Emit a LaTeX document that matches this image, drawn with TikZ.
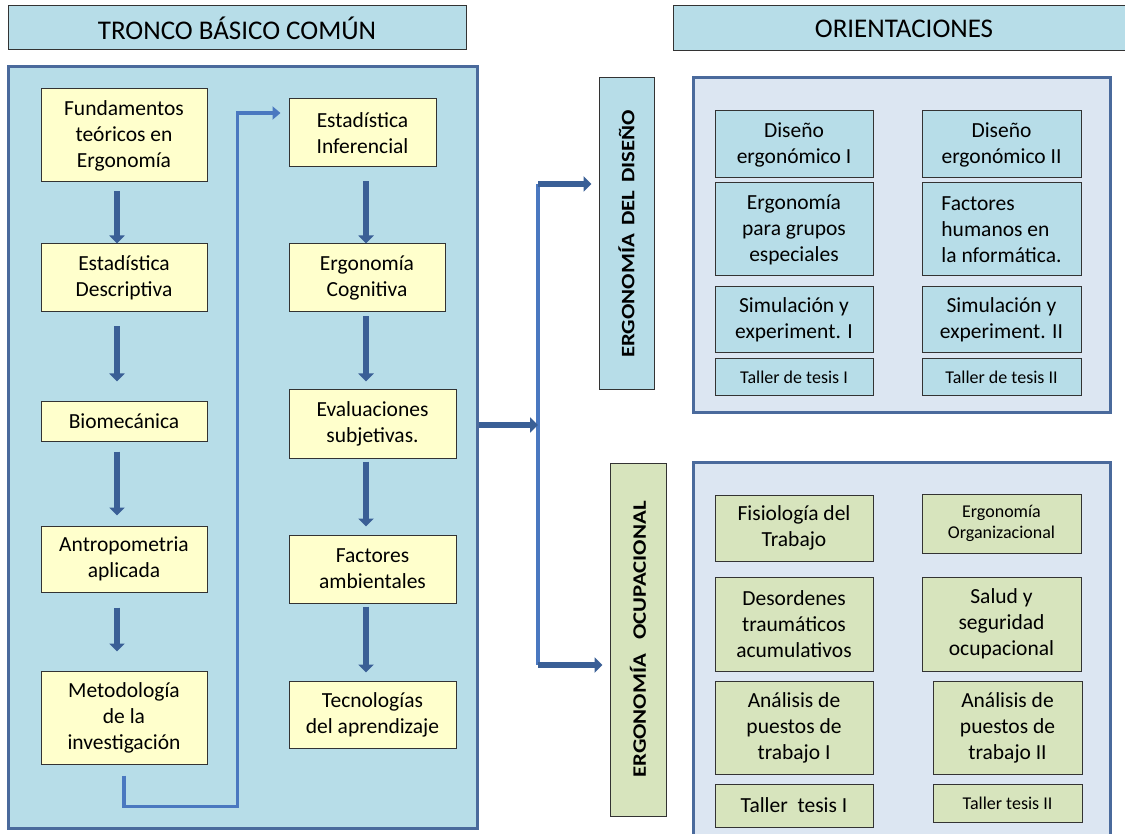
\documentclass[tikz,border=0pt]{standalone}
\usepackage{fontspec}
\setmainfont{Carlito}
\newfontfamily\anchafont[FakeStretch=1.2]{Carlito}
\usetikzlibrary{arrows.meta}
\definecolor{cielo}{HTML}{B7DDE8}
\definecolor{crema}{HTML}{FFFFCC}
\definecolor{oliva}{HTML}{D7E4BD}
\definecolor{niebla}{HTML}{DCE6F2}
\definecolor{marco}{HTML}{4A6A9C}
\definecolor{flechaazul}{HTML}{3A5F96}
\definecolor{lineazul}{HTML}{4A78C0}

\tikzset{
  caja/.style={draw=black!80, line width=1pt, align=center, inner sep=2pt, font=\fontsize{21.5}{26}\selectfont},
  amarilla/.style={caja, fill=crema},
  azul/.style={caja, fill=cielo},
  verde/.style={caja, fill=oliva},
  chica/.style={font=\fontsize{18}{21}\selectfont},
  titulo/.style={draw=black!80, line width=1pt, fill=cielo, font=\fontsize{27}{30}\selectfont},
  panel/.style={draw=marco, line width=3pt, fill=#1},
  vertical/.style={draw=black!80, line width=1pt, rotate=90, font=\anchafont\bfseries\fontsize{#1}{24}\selectfont},
  flecha/.style={draw=flechaazul, line width=6pt, -{Triangle[width=15pt,length=8pt]}},
  enlace/.style={draw=lineazul, line width=3.5pt},
}

\begin{document}
\begin{tikzpicture}[x=1pt, y=-1pt]
  \useasboundingbox (0,0) rectangle (1125,834);

  % Headers
  \node[titulo, minimum width=458pt, minimum height=44pt] (tronco) at (237,28) {TRONCO BÁSICO COMÚN};
  \node[titulo, minimum width=462pt, minimum height=45pt] (orient) at (904,28.5) {ORIENTACIONES};

  % Panels
  \node[panel=cielo, minimum width=469pt, minimum height=761pt] (panel) at (242.5,447.5) {};
  \node[panel=niebla, minimum width=417pt, minimum height=334pt] (panA) at (901.5,245) {};
  \node[panel=niebla, minimum width=417pt, minimum height=400pt] (panB) at (901.5,662) {};

  % Tronco basico, first column
  \node[amarilla, minimum width=166pt, minimum height=93pt] (fund) at (124,135.5) {Fundamentos\\teóricos en\\Ergonomía};
  \node[amarilla, minimum width=166pt, minimum height=68pt] (edesc) at (124,278) {Estadística\\Descriptiva};
  \node[amarilla, minimum width=166pt, minimum height=40pt] (biomec) at (124,421) {Biomecánica};
  \node[amarilla, minimum width=166pt, minimum height=66pt] (antrop) at (124,559) {Antropometria\\aplicada};
  \node[amarilla, minimum width=166pt, minimum height=93pt] (metod) at (124,717.5) {Metodología\\de la\\investigación};

  % Tronco basico, second column
  \node[amarilla, minimum width=147pt, minimum height=68pt] (einf) at (362.5,133) {Estadística\\Inferencial};
  \node[amarilla, minimum width=156pt, minimum height=68pt] (ecog) at (367,278) {Ergonomía\\Cognitiva};
  \node[amarilla, minimum width=167pt, minimum height=68pt] (evalu) at (372.5,424) {Evaluaciones\\subjetivas.};
  \node[amarilla, minimum width=167pt, minimum height=68pt] (factamb) at (372.5,569) {Factores\\ambientales};
  \node[amarilla, minimum width=167pt, minimum height=67pt] (tecno) at (372.5,714.5) {Tecnologías\\del aprendizaje};

  % Down arrows
  \coordinate (ejeA) at (117,0);
  \coordinate (ejeB) at (366,0);
  \draw[flecha, shorten <=9pt] (fund.south -| ejeA) -- (edesc.north -| ejeA);
  \draw[flecha, shorten <=14pt, shorten >=19pt] (edesc.south -| ejeA) -- (biomec.north -| ejeA);
  \draw[flecha, shorten <=10pt, shorten >=10pt] (biomec.south -| ejeA) -- (antrop.north -| ejeA);
  \draw[flecha, shorten <=15pt, shorten >=19pt] (antrop.south -| ejeA) -- (metod.north -| ejeA);
  \draw[flecha, shorten <=14pt] (einf.south -| ejeB) -- (ecog.north -| ejeB);
  \draw[flecha, shorten <=4pt, shorten >=8pt] (ecog.south -| ejeB) -- (evalu.north -| ejeB);
  \draw[flecha, shorten <=3pt, shorten >=8pt] (evalu.south -| ejeB) -- (factamb.north -| ejeB);
  \draw[flecha, shorten <=3pt, shorten >=8pt] (factamb.south -| ejeB) -- (tecno.north -| ejeB);

  % From the first column to the second
  \draw[enlace, -{Triangle[width=13pt,length=8pt]}, shorten <=11pt] (metod.south) -- ++(0,42)
    -| ([xshift=-51pt, yshift=20pt]einf.west) -- ([xshift=-8pt, yshift=20pt]einf.west);

  % Orientaciones (rotated: north is the left side)
  \node[vertical=19, fill=cielo, minimum width=312pt, minimum height=55pt] (diseno) at (626.5,234) {ERGONOMÍA\hspace{8pt}DEL\hspace{8pt}DISEÑO};
  \node[vertical=19, fill=oliva, minimum width=353pt, minimum height=56pt] (ocup) at (638,639.5) {ERGONOMÍA\hspace{14pt}OCUPACIONAL};

  \coordinate (nudo) at (538,425);
  \coordinate (ramaA) at (538,184);
  \coordinate (ramaB) at (538,665);
  \draw[enlace] (ramaA) -- (ramaB);
  \draw[flecha] (panel.east |- nudo) -- (nudo);
  \draw[flecha, shorten >=7pt] (ramaA) -- (ramaA -| diseno.north);
  \draw[flecha, shorten >=7pt] (ramaB) -- (ramaB -| ocup.north);

  % Ergonomia del diseno
  \node[azul, minimum width=158pt, minimum height=67pt] (dis1) at (794,144.5) {Diseño\\ergonómico I};
  \node[azul, minimum width=159pt, minimum height=67pt] (dis2) at (1001.5,144.5) {Diseño\\ergonómico II};
  \node[azul, minimum width=158pt, minimum height=93pt] (grupos) at (794,229.5) {Ergonomía\\para grupos\\especiales};
  \node[azul, align=left, minimum width=159pt, minimum height=93pt] (humanos) at (1001.5,229.5) {Factores\\humanos en\\la nformática.};
  \node[azul, minimum width=158pt, minimum height=66pt] (sim1) at (794,320) {Simulación y\\experiment. I};
  \node[azul, minimum width=159pt, minimum height=66pt] (sim2) at (1001.5,320) {Simulación y\\experiment. II};
  \node[azul, chica, minimum width=158pt, minimum height=36pt] (tesA1) at (794,377) {Taller de tesis I};
  \node[azul, chica, minimum width=159pt, minimum height=36pt] (tesA2) at (1001.5,377) {Taller de tesis II};

  % Ergonomia ocupacional
  \node[verde, minimum width=158pt, minimum height=66pt] (fisio) at (794,528) {Fisiología del\\Trabajo};
  \node[verde, chica, minimum width=159pt, minimum height=59pt] (ergorg) at (1001.5,523.5) {Ergonomía\\Organizacional};
  \node[verde, minimum width=158pt, minimum height=94pt] (desord) at (794,624) {Desordenes\\traumáticos\\acumulativos};
  \node[verde, minimum width=159pt, minimum height=94pt] (salud) at (1001.5,624) {Salud y\\seguridad\\ocupacional};
  \node[verde, minimum width=158pt, minimum height=93pt] (anal1) at (794,727.5) {Análisis de\\puestos de\\trabajo I};
  \node[verde, minimum width=149pt, minimum height=93pt] (anal2) at (1007.5,727.5) {Análisis de\\puestos de\\trabajo II};
  \node[verde, minimum width=158pt, minimum height=43pt] (tesB1) at (794,805.5) {Taller\ \ tesis I};
  \node[verde, chica, minimum width=149pt, minimum height=38pt] (tesB2) at (1007.5,803) {Taller tesis II};
\end{tikzpicture}
\end{document}
